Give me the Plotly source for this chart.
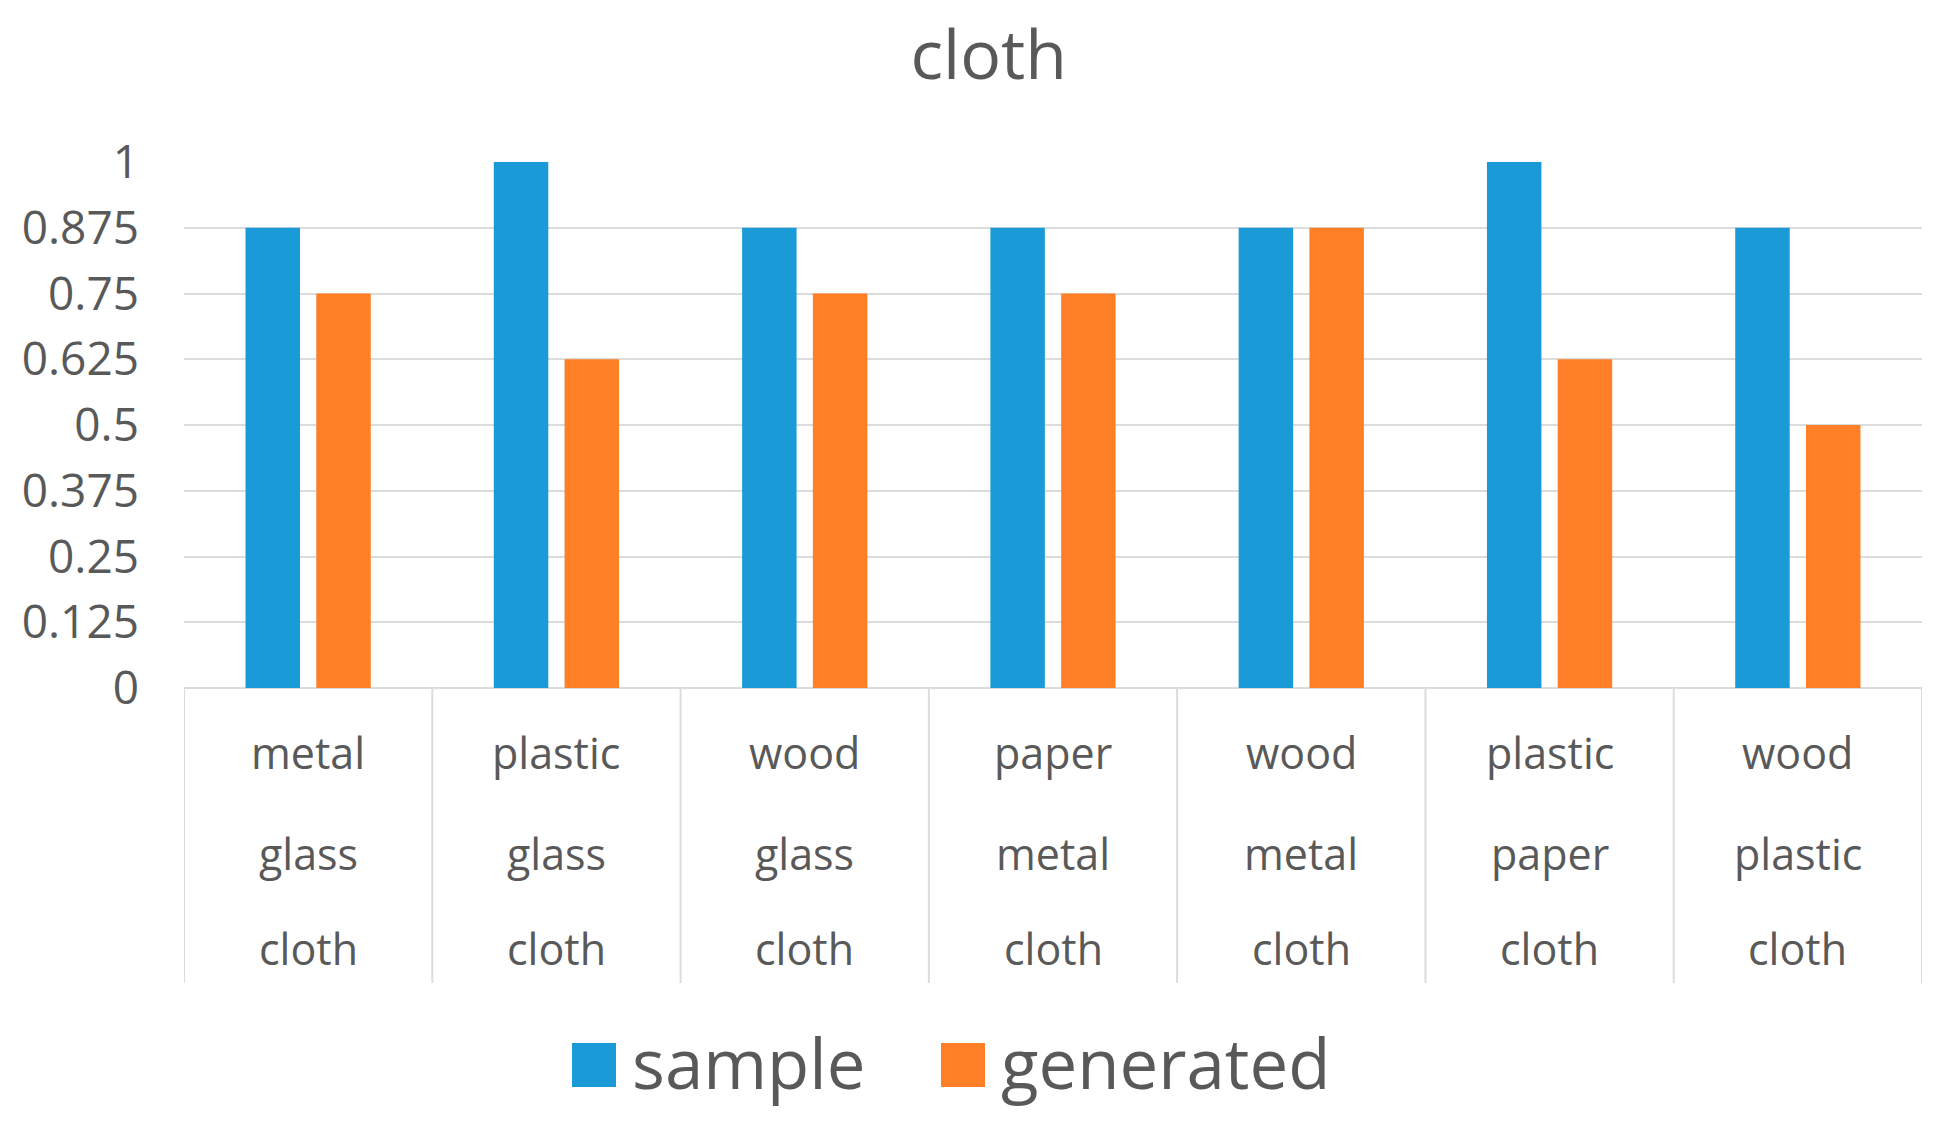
import plotly.graph_objects as go

# data
top_row = ["metal", "plastic", "wood", "paper", "wood", "plastic", "wood"]
mid_row = ["glass", "glass", "glass", "metal", "metal", "paper", "plastic"]
bottom_row = ["cloth", "cloth", "cloth", "cloth", "cloth", "cloth", "cloth"]
sample = [0.875, 1, 0.875, 0.875, 0.875, 1, 0.875]
generated = [0.75, 0.625, 0.75, 0.75, 0.875, 0.625, 0.5]
y_ticks = [0, 0.125, 0.25, 0.375, 0.5, 0.625, 0.75, 0.875, 1]
y_labels = ["0", "0.125", "0.25", "0.375", "0.5", "0.625", "0.75", "0.875", "1"]

BLUE = "#1a9bd7"
ORANGE = "#ff7f27"
TEXT = "#595959"
GRID = "#dcdcdc"
FONT = "Open Sans"

# the page body adds an 8px offset, so the figure is a bit smaller than the window
OFF = 8
W, H = 1950 - OFF, 1125 - OFF
plot_w, plot_h = 1738, 526
L, T = 184 - OFF, 162 - OFF
R = W - L - plot_w
B = H - T - plot_h


def px_x(px):
    # page pixel -> paper x
    return (px - OFF - L) / plot_w


def px_y(py):
    # page pixel -> paper y
    return (T + plot_h - (py - OFF)) / plot_h


cats = list(range(len(sample)))

fig = go.Figure()
fig.add_trace(go.Bar(x=cats, y=sample, name="sample", marker=dict(color=BLUE, line=dict(width=0)), showlegend=False))
fig.add_trace(go.Bar(x=cats, y=generated, name="generated", marker=dict(color=ORANGE, line=dict(width=0)), showlegend=False))

# category labels, three rows
for rowtext, py in [(top_row, 752), (mid_row, 853), (bottom_row, 948)]:
    for i, t in enumerate(rowtext):
        fig.add_annotation(x=i, y=px_y(py), xref="x", yref="paper", text=t, showarrow=False,
                           xanchor="center", yanchor="middle", font=dict(size=43, color=TEXT, family=FONT))

# category box dividers
for i in range(len(cats) + 1):
    fig.add_shape(type="line", xref="x", yref="paper", x0=i - 0.5, x1=i - 0.5, y0=0, y1=px_y(983),
                  line=dict(color=GRID, width=2))

# manual legend (plotly's legend swatches are too small)
for color, label, x0 in [(BLUE, "sample", 572), (ORANGE, "generated", 941)]:
    fig.add_shape(type="rect", xref="paper", yref="paper", x0=px_x(x0), x1=px_x(x0 + 44),
                  y0=px_y(1087), y1=px_y(1043), fillcolor=color, line=dict(width=0))
    fig.add_annotation(x=px_x(x0 + 58), y=px_y(1062), xref="paper", yref="paper", text=label,
                       showarrow=False, xanchor="left", yanchor="middle",
                       font=dict(size=69, color=TEXT, family=FONT))

fig.update_layout(
    width=W, height=H,
    margin=dict(l=L, r=R, t=T, b=B),
    paper_bgcolor="white", plot_bgcolor="white",
    barmode="group", bargap=0.43, bargroupgap=0.23,
    title=dict(text="cloth", x=0.505, y=1 - (55 - OFF) / H, xref="container", yref="container",
               xanchor="center", yanchor="middle", font=dict(size=68, color=TEXT, family=FONT)),
    font=dict(family=FONT, color=TEXT),
)
fig.update_xaxes(range=[-0.5, len(cats) - 0.5], showticklabels=False, showgrid=False,
                 zeroline=False, showline=False)
fig.update_yaxes(range=[0, 1], tickvals=y_ticks, ticktext=y_labels, showgrid=True, gridcolor=GRID,
                 gridwidth=2, zeroline=True, zerolinecolor=GRID, zerolinewidth=2, showline=False,
                 tickfont=dict(size=46, color=TEXT, family=FONT), ticklabelstandoff=44)

fig.write_html("out.html")
